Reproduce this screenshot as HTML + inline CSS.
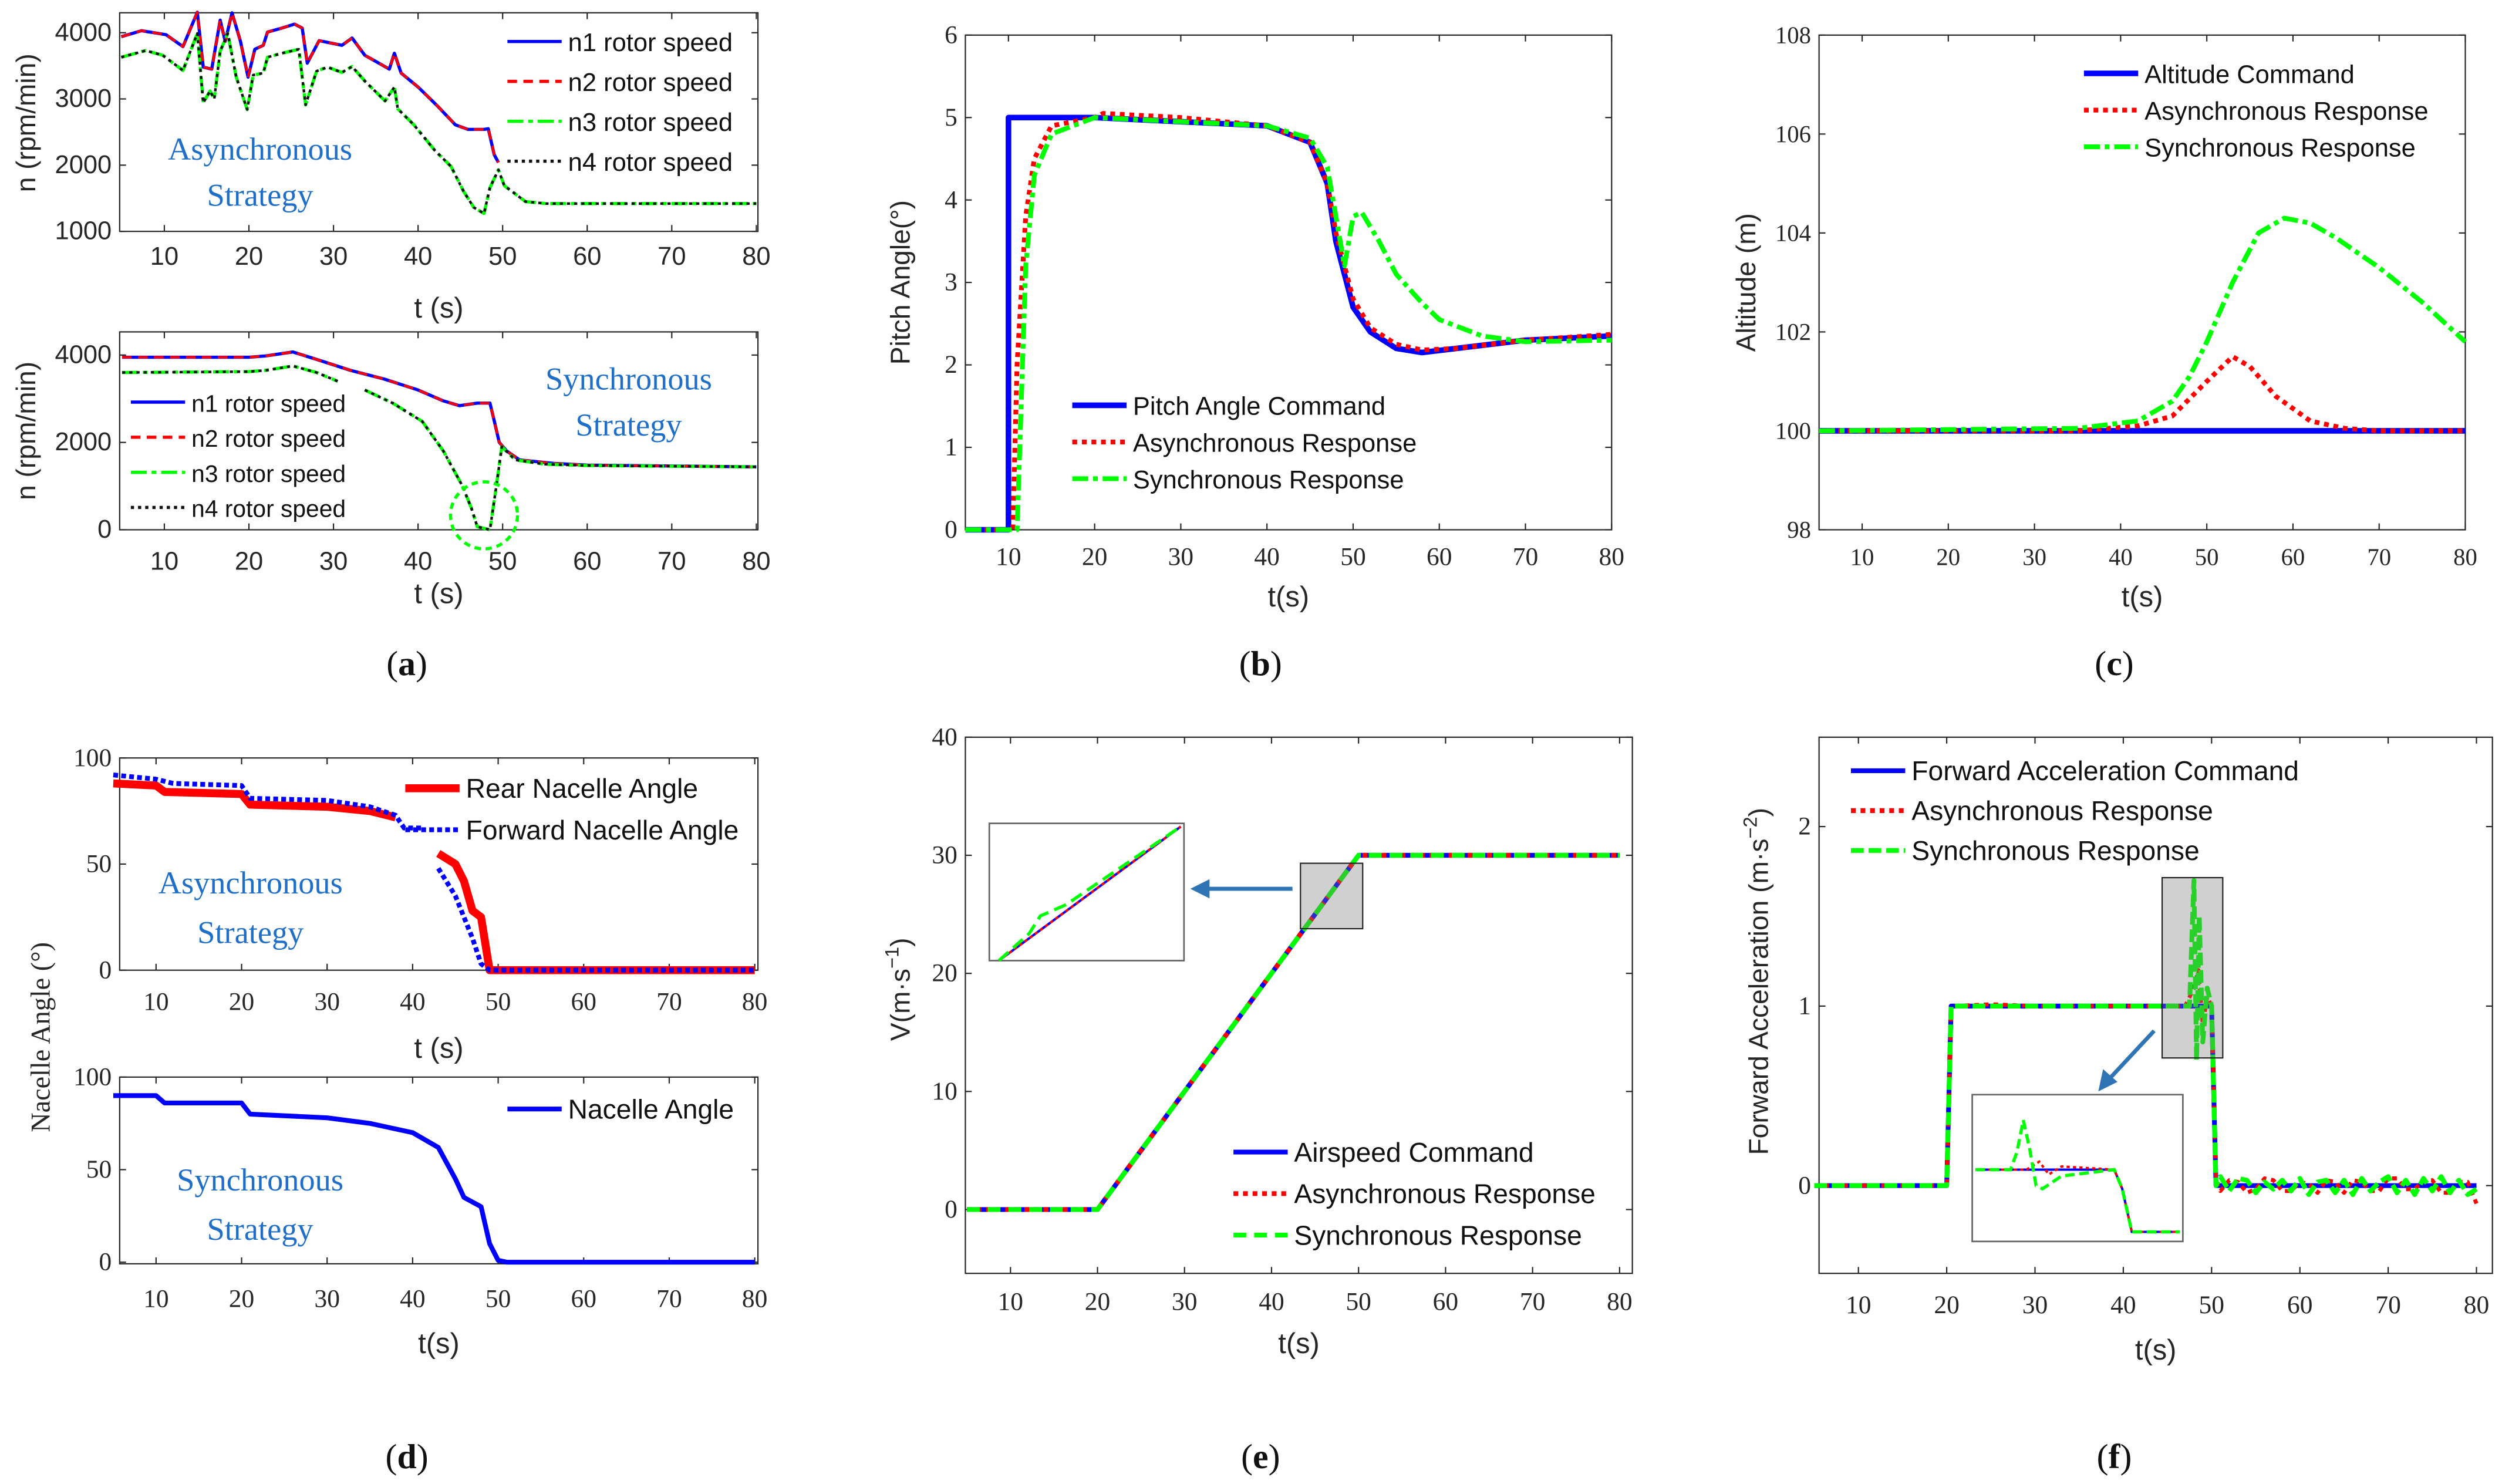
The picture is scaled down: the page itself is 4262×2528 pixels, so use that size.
<!DOCTYPE html>
<html><head><meta charset="utf-8">
<style>
html,body{margin:0;padding:0;background:#fff;}
svg{display:block;}
text{font-family:"Liberation Sans",sans-serif;}
.ser{font-family:"Liberation Serif",serif;}
</style></head>
<body>
<svg id="fig" width="4262" height="2528" viewBox="0 0 1568 930" preserveAspectRatio="none">
</svg>
<script>
// ---------- DATA ----------
const aTopT12 = [4.9,7.3,10.2,12.2,13.9,14.6,15.6,16.6,17.2,18,19,19.9,20.7,21.7,22.2,23.9,25.4,26.3,26.9,28.3,31,32.2,33.7,36.6,37.2,38,40,42.4,44.4,45.9,47.8,48.3,49,49.5];
const aTopN12 = [3940,4030,3970,3790,4310,3480,3450,4190,3870,4300,3870,3330,3750,3810,4010,4070,4130,4070,3540,3880,3810,3920,3660,3450,3690,3390,3180,2880,2610,2540,2540,2550,2160,2040];
const aTopT34 = [4.9,7.8,9.8,12.2,13.9,14.6,15.4,15.9,16.6,17.5,18.5,19.8,20.5,21.7,22.2,23.9,25.9,26.7,28,29.3,31,32.2,33.7,36.1,37.2,37.6,39.5,42,43.9,45.4,46.6,47.8,48.5,49.5,50.2,52.7,55.1,80];
const aTopN34 = [3630,3730,3660,3430,3990,2940,3120,3000,3720,3990,3330,2840,3360,3390,3630,3690,3750,2910,3420,3480,3400,3490,3270,2970,3180,2850,2610,2220,1980,1600,1360,1270,1660,1930,1690,1450,1420,1420];
const aBotT12 = [5,20,22,25.2,28,32,36,40,43,44.9,47,48.5,49,49.6,50.5,52,56,60,80];
const aBotN12 = [3950,3950,3980,4070,3900,3650,3450,3200,2950,2840,2900,2900,2500,2000,1800,1600,1520,1480,1440];
const aBotT34a = [5,20,22,25.2,28,30.5];
const aBotN34a = [3600,3620,3650,3750,3600,3400];
const aBotT34b = [33.7,37,40.5,43,45.2,46.3,47,48.5,49.3,49.9,51.5,55,60,80];
const aBotN34b = [3200,2900,2480,1800,1020,500,70,0,1060,1900,1600,1500,1470,1440];
const bCmdT = [5,10,10,20,40,45,47,48,50,52,55,58,62,70,80];
const bCmdV = [0,0,5,5,4.9,4.7,4.2,3.5,2.7,2.4,2.2,2.15,2.2,2.3,2.35];
const bAsyT = [5,10.5,11,12,13,15,20,21,30,40,45,47,48,50,52,55,58,62,70,80];
const bAsyV = [0,0,2,3.8,4.5,4.9,5.0,5.05,5.0,4.9,4.7,4.2,3.6,2.8,2.45,2.25,2.18,2.2,2.3,2.37];
const bSynT = [5,11,12,13,15,20,30,40,45,47,48,49,50,51,53,55,58,60,65,70,80];
const bSynV = [0,0,3.2,4.3,4.8,5.0,4.95,4.9,4.75,4.4,3.8,3.2,3.8,3.85,3.5,3.1,2.75,2.55,2.35,2.28,2.3];
const cCmdT = [5,80];
const cCmdV = [100,100];
const cAsyT = [5,35,42,46,50,53,55,58,62,66,70,80];
const cAsyV = [100,100,100.1,100.3,101,101.5,101.3,100.7,100.2,100.05,100,100];
const cSynT = [5,35,42,46,48,50,53,56,59,62,65,70,75,80];
const cSynV = [100,100.05,100.2,100.6,101.1,101.8,103,104,104.3,104.2,103.9,103.3,102.6,101.8];
const dRearT1 = [5,10,11,20,21,30,35,38];
const dRearV1 = [88,87,84,83,78,77,75,72];
const dRearT2 = [43,45,46,47,48,49,80];
const dRearV2 = [55,50,42,28,25,0,0];
const dFwdT1 = [5,10,12,20,21,30,35,38,39,41];
const dFwdV1 = [92,90,88,87,81,80,77,73,67,67];
const dFwdT2 = [43,45,47,48,49,80];
const dFwdV2 = [48,35,15,3,0,0];
const dSynT = [5,10,11,20,21,30,35,40,43,45,46,48,49,50,51,80];
const dSynV = [90,90,86,86,80,78,75,70,62,45,35,30,10,1,0,0];
const eT = [5,20,50,80];
const eCmdV = [0,0,30,30];
const eAsyV = [0,0,30,30];
const eSynV = [0,0,30,30];
const fCmdT = [5,20,20.5,50,50.5,80];
const fCmdV = [0,0,1,1,0,0];
const fAsyT = [5,20,20.5,25,30,40,47,48,48.5,49,49.5,50,50.5,51,52,53,54,55,56,57,58,59,60,61,62,63,64,65,66,67,68,69,70,71,72,73,74,75,76,77,78,79,80];
const fAsyV = [0,0,1,1.01,1,1,1,1.1,1.2,0.9,1.05,1,0.02,-0.03,0.03,0.02,-0.04,-0.02,0.04,0.03,-0.03,-0.03,0.02,0.01,-0.04,0.03,0.02,-0.04,0.03,0.02,-0.03,-0.03,0.04,0.04,-0.02,-0.02,0.03,0.03,-0.04,-0.04,0.02,0.02,-0.1];
const fSynT = [5,20,20.5,25,30,40,47,47.5,48,48.3,48.6,49,49.5,50,50.5,51,52,53,54,55,56,57,58,59,60,61,62,63,64,65,66,67,68,69,70,71,72,73,74,75,76,77,78,79,80];
const fSynV = [0,0,1,1,1,1,1,1,1.7,0.7,1.5,0.8,1.1,1,0,0.05,-0.03,0.04,0.03,-0.04,0.02,-0.02,0.03,-0.03,0.04,-0.05,0.02,0.03,-0.04,0.03,-0.05,0.04,-0.03,0.02,0.05,-0.04,0.03,-0.05,0.04,-0.03,0.05,-0.04,0.03,-0.05,-0.02];

// ---------- DRAW ----------
const NS='http://www.w3.org/2000/svg';
const svg=document.getElementById('fig');
function mk(tag,attrs,parent){const e=document.createElementNS(NS,tag);for(const k in attrs)e.setAttribute(k,attrs[k]);(parent||svg).appendChild(e);return e;}
function scaleX(p,t){return p.px0+(t-p.t0)*(p.px1-p.px0)/(p.t1-p.t0);}
function scaleY(p,v){return p.py0+(v-p.v0)*(p.py1-p.py0)/(p.v1-p.v0);}
function axes(p,name,xt,yt,ytl,xlab,ylab){
  const g=mk('g',{});
  
  
  const r=mk('rect',{x:p.bx0,y:p.by0,width:p.bx1-p.bx0,height:p.by1-p.by0,fill:'none',stroke:'#262626','stroke-width':0.8},g);
  
  
  xt.forEach(t=>{const x=scaleX(p,t);
    mk('line',{x1:x,x2:x,y1:p.by1,y2:p.by1-4,stroke:'#262626','stroke-width':0.8},g);
    mk('line',{x1:x,x2:x,y1:p.by0,y2:p.by0+4,stroke:'#262626','stroke-width':0.8},g);
    const tx=mk('text',{x:x,y:p.by1+p.xlo,'text-anchor':'middle','font-size':p.fs||16,fill:'#262626',class:p.serif?'ser':''},g);tx.textContent=t;
    
    
  });
  yt.forEach((v,i)=>{const y=scaleY(p,v);
    mk('line',{x1:p.bx0,x2:p.bx0+4,y1:y,y2:y,stroke:'#262626','stroke-width':0.8},g);
    mk('line',{x1:p.bx1,x2:p.bx1-4,y1:y,y2:y,stroke:'#262626','stroke-width':0.8},g);
    const tx=mk('text',{x:p.bx0-5,y:y+5,'text-anchor':'end','font-size':p.fs||16,fill:'#262626',class:p.serif?'ser':''},g);tx.textContent=ytl[i];
    
    
  });
  const xl=mk('text',{x:(p.bx0+p.bx1)/2,y:p.xly,'text-anchor':'middle','font-size':18,fill:'#262626'},g);xl.textContent=xlab;
  
  
  if(ylab){const yl=mk('text',{x:0,y:0,transform:`translate(${p.ylx},${p.yly}) rotate(-90)`,'text-anchor':'middle','font-size':17,fill:'#262626'},g);yl.innerHTML=ylab;
    
    }
}
function line(p,ts,vs,color,w,dash,name){
  const d=ts.map((t,i)=>(i?'L':'M')+scaleX(p,t).toFixed(2)+','+scaleY(p,vs[i]).toFixed(2)).join('');
  const a={d:d,fill:'none',stroke:color,'stroke-width':w,'stroke-linejoin':'round'};
  if(dash)a['stroke-dasharray']=dash;
  const e=mk('path',a);
  
  
  return e;
}
function txt(x,y,s,size,color,cls,name,anchor){
  const e=mk('text',{x:x,y:y,'font-size':size,fill:color,class:cls||'','text-anchor':anchor||'start'});
  e.textContent=s;
  
  
  return e;
}
function legend(items,x,y,dy,size,name){
  const g=mk('g',{});
  
  
  items.forEach((it,i)=>{const yy=y+i*dy;
    const l=mk('line',{x1:x,x2:x+34,y1:yy,y2:yy,stroke:it[1],'stroke-width':it[2]},g);
    if(it[3])l.setAttribute('stroke-dasharray',it[3]);
    const t=mk('text',{x:x+38,y:yy+6,'font-size':size,fill:'#111'},g);t.textContent=it[0];
    
    
  });
}
const BLUE='#0000ff',RED='#ff0000',GREEN='#00ff00',BLK='#111',TXTB='#1f6fc8';
const DOT='2,2.5',DASHDOT='10,3,3,3';

// (a) top
const pA1={t0:5,t1:80,px0:76.5,px1:474,v0:1000,v1:4000,py0:145,py1:20.5,bx0:75,bx1:475,by0:8,by1:145,xlo:21,xly:199,ylx:22,yly:77};
axes(pA1,'panel-a-top-axes',[10,20,30,40,50,60,70,80],[1000,2000,3000,4000],['1000','2000','3000','4000'],'t (s)','n (rpm/min)');
line(pA1,aTopT12,aTopN12,BLUE,2,null,'n1-async');
line(pA1,aTopT12,aTopN12,RED,1.6,'6,4','n2-async');
line(pA1,aTopT34,aTopN34,GREEN,2,DASHDOT,'n3-async');
line(pA1,aTopT34,aTopN34,BLK,1.6,DOT,'n4-async');
txt(163,100,'Asynchronous',20,TXTB,'ser','async-strategy-label','middle');
txt(163,129,'Strategy',20,TXTB,'ser','async-strategy-label-2','middle');
legend([['n1 rotor speed',BLUE,2],['n2 rotor speed',RED,2,'6,4'],['n3 rotor speed',GREEN,2,DASHDOT],['n4 rotor speed',BLK,2,DOT]],318,26,25,16,'legend-a-top');

// (a) bottom
const pA2={t0:5,t1:80,px0:76.5,px1:474,v0:0,v1:4000,py0:332,py1:222.5,bx0:75,bx1:475,by0:208,by1:332,xlo:25,xly:378,ylx:22,yly:270};
axes(pA2,'panel-a-bottom-axes',[10,20,30,40,50,60,70,80],[0,2000,4000],['0','2000','4000'],'t (s)','n (rpm/min)');
line(pA2,aBotT12,aBotN12,BLUE,2,null,'n1-sync');
line(pA2,aBotT12,aBotN12,RED,1.6,'6,4','n2-sync');
line(pA2,aBotT34a,aBotN34a,GREEN,2,DASHDOT,'n3-sync-a');
line(pA2,aBotT34a,aBotN34a,BLK,1.6,DOT,'n4-sync-a');
line(pA2,aBotT34b,aBotN34b,GREEN,2,DASHDOT,'n3-sync-b');
line(pA2,aBotT34b,aBotN34b,BLK,1.6,DOT,'n4-sync-b');
{const c=mk('circle',{cx:scaleX(pA2,47.8),cy:scaleY(pA2,330),r:21,fill:'none',stroke:GREEN,'stroke-width':2,'stroke-dasharray':'4,3'});}
txt(394,244,'Synchronous',20,TXTB,'ser','sync-strategy-label','middle');
txt(394,273,'Strategy',20,TXTB,'ser','sync-strategy-label-2','middle');
legend([['n1 rotor speed',BLUE,2],['n2 rotor speed',RED,2,'6,4'],['n3 rotor speed',GREEN,2,DASHDOT],['n4 rotor speed',BLK,2,DOT]],82,252,22,15,'legend-a-bottom');

// (b)
const pB={t0:5,t1:80,px0:605,px1:1010,v0:0,v1:6,py0:332,py1:22,bx0:605,bx1:1010,by0:22,by1:332,xlo:22,xly:380,ylx:570,yly:177,serif:true,fs:16};
axes(pB,'panel-b-axes',[10,20,30,40,50,60,70,80],[0,1,2,3,4,5,6],['0','1','2','3','4','5','6'],'t(s)','Pitch Angle(°)');
line(pB,bCmdT,bCmdV,BLUE,3.5,null,'pitch-command');
line(pB,bAsyT,bAsyV,RED,3,'3,3','pitch-async');
line(pB,bSynT,bSynV,GREEN,3,DASHDOT,'pitch-sync');
legend([['Pitch Angle Command',BLUE,3.5],['Asynchronous Response',RED,3,'3,3'],['Synchronous Response',GREEN,3,DASHDOT]],672,254,23,16,'legend-b');

// (c)
const pC={t0:5,t1:80,px0:1140,px1:1545,v0:98,v1:108,py0:332,py1:22,bx0:1140,bx1:1545,by0:22,by1:332,xlo:22,xly:380,ylx:1100,yly:177,serif:true,fs:15};
axes(pC,'panel-c-axes',[10,20,30,40,50,60,70,80],[98,100,102,104,106,108],['98','100','102','104','106','108'],'t(s)','Altitude (m)');
line(pC,cCmdT,cCmdV,BLUE,3.5,null,'altitude-command');
line(pC,cAsyT,cAsyV,RED,3,'3,3','altitude-async');
line(pC,cSynT,cSynV,GREEN,3,DASHDOT,'altitude-sync');
legend([['Altitude Command',BLUE,3.5],['Asynchronous Response',RED,3,'3,3'],['Synchronous Response',GREEN,3,DASHDOT]],1306,46,23,16,'legend-c');

// (d) top
const pD1={t0:5,t1:80,px0:71,px1:473,v0:0,v1:100,py0:608,py1:475,bx0:75,bx1:475,by0:475,by1:608,xlo:25,xly:663,ylx:30,yly:640,serif:true,fs:16};
axes(pD1,'panel-d-top-axes',[10,20,30,40,50,60,70,80],[0,50,100],['0','50','100'],'t (s)','');
line(pD1,dRearT1,dRearV1,RED,5,null,'rear-nacelle-a');
line(pD1,dRearT2,dRearV2,RED,5,null,'rear-nacelle-b');
line(pD1,dFwdT1,dFwdV1,BLUE,3,'3,2','forward-nacelle-a');
line(pD1,dFwdT2,dFwdV2,BLUE,3,'3,2','forward-nacelle-b');
txt(157,560,'Asynchronous',20,TXTB,'ser','async-strategy-label-d','middle');
txt(157,591,'Strategy',20,TXTB,'ser','async-strategy-label-d2','middle');
legend([['Rear Nacelle Angle',RED,5],['Forward Nacelle Angle',BLUE,3,'3,2']],254,494,26,17,'legend-d-top');
{const yl=txt(0,0,'Nacelle Angle (°)',17,'#262626','ser','y-axis-title-d','middle');yl.setAttribute('transform','translate(31,650) rotate(-90)');}

// (d) bottom
const pD2={t0:5,t1:80,px0:71,px1:473,v0:0,v1:100,py0:791,py1:675,bx0:75,bx1:475,by0:675,by1:792,xlo:27,xly:848,serif:true,fs:16};
axes(pD2,'panel-d-bottom-axes',[10,20,30,40,50,60,70,80],[0,50,100],['0','50','100'],'t(s)','');
line(pD2,dSynT,dSynV,BLUE,3,null,'nacelle-sync');
txt(163,746,'Synchronous',20,TXTB,'ser','sync-strategy-label-d','middle');
txt(163,777,'Strategy',20,TXTB,'ser','sync-strategy-label-d2','middle');
legend([['Nacelle Angle',BLUE,3]],318,695,26,17,'legend-d-bottom');

// (e)
const pE={t0:5,t1:80,px0:606,px1:1015,v0:0,v1:40,py0:758,py1:462,bx0:605,bx1:1023,by0:462,by1:798,xlo:23,xly:848,ylx:570,yly:620,serif:true,fs:16};
axes(pE,'panel-e-axes',[10,20,30,40,50,60,70,80],[0,10,20,30,40],['0','10','20','30','40'],'t(s)','V(m·s<tspan dy="-7" font-size="12">−1</tspan><tspan dy="7">)</tspan>');
line(pE,eT,eCmdV,BLUE,3,null,'airspeed-command');
line(pE,eT,eAsyV,RED,3,'3,3','airspeed-async');
line(pE,eT,eSynV,GREEN,3,'8,5','airspeed-sync');
{const r=mk('rect',{x:815,y:541,width:39,height:41,fill:'rgba(120,120,120,0.35)',stroke:'#222','stroke-width':0.8});
 const ib=mk('rect',{x:620,y:516,width:122,height:86,fill:'#fff',stroke:'#666','stroke-width':1});
 const l1=mk('path',{d:'M626,602 L740,518',stroke:BLUE,'stroke-width':1.5,fill:'none'});
 const l2=mk('path',{d:'M626,602 L740,518',stroke:RED,'stroke-width':1.5,fill:'none','stroke-dasharray':'2,2'});
 const l3=mk('path',{d:'M626,602 L645,585 L652,574 L668,567 L740,518',stroke:GREEN,'stroke-width':2,fill:'none','stroke-dasharray':'8,4'});
 const ar=mk('line',{x1:810,y1:557,x2:756,y2:557,stroke:'#2f75b5','stroke-width':2.5});
 const ah=mk('path',{d:'M746,557 L758,551 L758,563 Z',fill:'#2f75b5'});}
legend([['Airspeed Command',BLUE,3],['Asynchronous Response',RED,3,'3,3'],['Synchronous Response',GREEN,3,'8,5']],773,722,26,17,'legend-e');

// (f)
const pF={t0:5,t1:80,px0:1137,px1:1552,v0:0,v1:2,py0:743,py1:518,bx0:1140,bx1:1562,by0:462,by1:798,xlo:25,xly:852,ylx:1108,yly:615,serif:true,fs:16};
axes(pF,'panel-f-axes',[10,20,30,40,50,60,70,80],[0,1,2],['0','1','2'],'t(s)','Forward Acceleration (m·s<tspan dy="-7" font-size="12">−2</tspan><tspan dy="7">)</tspan>');
line(pF,fCmdT,fCmdV,BLUE,3,null,'accel-command');
line(pF,fAsyT,fAsyV,RED,2.5,'3,3','accel-async');
line(pF,fSynT,fSynV,GREEN,3,'8,3','accel-sync');
{const r=mk('rect',{x:1355,y:550,width:38,height:113,fill:'rgba(120,120,120,0.35)',stroke:'#222','stroke-width':0.8});
 const ib=mk('rect',{x:1236,y:686,width:132,height:92,fill:'#fff',stroke:'#666','stroke-width':1});
 const l1=mk('path',{d:'M1238,733 L1325,733 L1330,745 L1336,772 L1366,772',stroke:BLUE,'stroke-width':1.5,fill:'none'});
 const l2=mk('path',{d:'M1238,733 L1270,733 L1278,728 L1284,736 L1292,731 L1325,733 L1330,745 L1336,772 L1366,772',stroke:RED,'stroke-width':1.5,fill:'none','stroke-dasharray':'2,2'});
 const l3=mk('path',{d:'M1238,733 L1260,733 L1264,722 L1268,702 L1272,720 L1276,743 L1280,745 L1292,737 L1325,733 L1330,745 L1336,772 L1366,772',stroke:GREEN,'stroke-width':2,fill:'none','stroke-dasharray':'6,3'});
 const ar=mk('line',{x1:1350,y1:646,x2:1322,y2:676,stroke:'#2f75b5','stroke-width':2.5});
 const ah=mk('path',{d:'M1315,684 L1318,670 L1327,678 Z',fill:'#2f75b5'});}
legend([['Forward Acceleration Command',BLUE,3],['Asynchronous Response',RED,3,'3,3'],['Synchronous Response',GREEN,3,'8,3']],1160,483,25,17,'legend-f');

// captions
[['(a)',255,423],['(b)',790,423],['(c)',1325,423],['(d)',255,920],['(e)',790,920],['(f)',1325,920]].forEach(c=>{
  const e=mk('text',{x:c[1],y:c[2],'text-anchor':'middle','font-size':22,fill:'#111',class:'ser'});
  e.innerHTML='(<tspan font-weight="bold">'+c[0][1]+'</tspan>)';
  
  
});
</script>
</body></html>
